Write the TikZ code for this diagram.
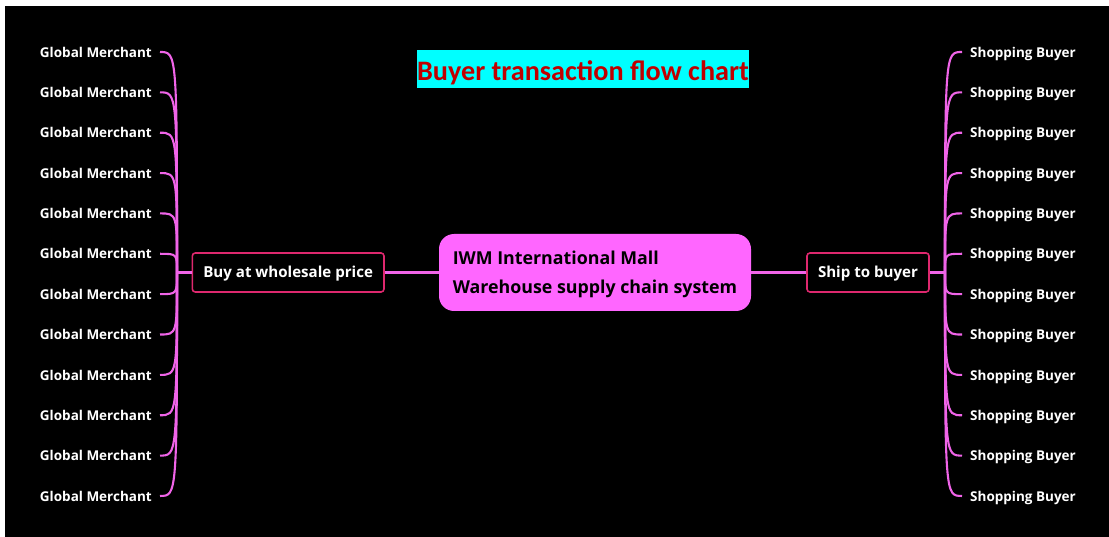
\documentclass[tikz,border=0pt]{standalone}
\usepackage{fontspec}
\setmainfont{Open Sans}
\newfontfamily\titlefont{Carlito}
\usepackage{xcolor}
\definecolor{mallpink}{RGB}{255,102,255}
\definecolor{linkpink}{RGB}{240,100,232}
\definecolor{crimson}{RGB}{222,40,110}
\definecolor{titlered}{RGB}{192,0,0}
\definecolor{titlecyan}{RGB}{0,255,255}
\usetikzlibrary{positioning}

\begin{document}
\begin{tikzpicture}[x = 1pt, y = -1pt, node distance = 54pt,
    hub/.style={
        rectangle, rounded corners = 15pt, fill = mallpink, text = black,
        font = \bfseries\fontsize{17.8}{29}\selectfont, align = left,
        text depth = 0pt, minimum width = 312pt, minimum height = 77pt},
    branch/.style={
        rectangle, rounded corners = 3pt, line width = 1.6pt, draw = crimson,
        fill = black, text = white, font = \bfseries\fontsize{15.1}{18}\selectfont,
        text height = 11pt, text depth = 0pt,
        minimum height = 39pt, inner xsep = 11pt},
    leaf/.style={
        text = white, font = \bfseries\fontsize{13.5}{16}\selectfont,
        inner xsep = 8pt, inner ysep = 0pt, text depth = 0pt},
    link/.style={draw = linkpink, line width = 2.1pt}]
    \useasboundingbox (0,0) rectangle (1109,537);
    \fill[white] (0,0) rectangle (1109,537);
    \fill[black] (5,6) rectangle (1109,537);

    \node (T) [fill = titlecyan, text = titlered, inner sep = 0pt,
        font = \titlefont\bfseries\fontsize{28.2}{30}\selectfont,
        text height = 24pt, text depth = 0pt,
        minimum width = 330pt, minimum height = 38pt] at (583,69) {Buyer transaction flow chart};

    \node (C) [hub] at (595,272.5) {IWM International Mall\\Warehouse supply chain system};
    \node (L) [branch, left=54pt of C] {Buy at wholesale price};
    \node (R) [branch, right=55pt of C] {Ship to buyer};
    \coordinate (LF) at (177,272.5);
    \coordinate (RF) at (945,272.5);
    \draw[link] (C) -- (L) (L) -- (LF);
    \draw[link] (C) -- (R) (R) -- (RF);

    % merchants on the left, buyers on the right
    \foreach \i in {0,...,11} {
        \pgfmathsetmacro{\y}{52+40.36*\i}
        \node (GM\i) [leaf, anchor=east] at (160,\y) {Global Merchant};
        \node (SB\i) [leaf, anchor=west] at (962,\y) {Shopping Buyer};
        \draw[link] (LF) .. controls (177,\y) and (177,\y) .. (GM\i.east);
        \draw[link] (RF) .. controls (945,\y) and (945,\y) .. (SB\i.west);
    }
\end{tikzpicture}
\end{document}
